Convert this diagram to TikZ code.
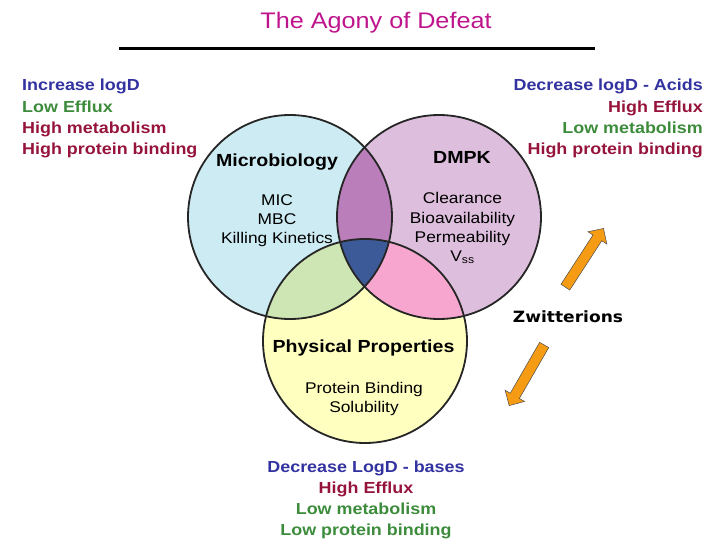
\documentclass[tikz,border=0pt]{standalone}
\usepackage{fontspec}
\setmainfont{Liberation Sans}[FakeStretch=1.12]
\newfontfamily\zwfont{DejaVu Sans}[FakeStretch=1.1]
\usetikzlibrary{shapes.arrows}
\definecolor{AgoMagenta}{RGB}{190,20,140}
\definecolor{AgoBlueText}{RGB}{50,50,160}
\definecolor{AgoGreenText}{RGB}{60,140,60}
\definecolor{AgoRedText}{RGB}{150,20,60}
\definecolor{AgoCyan}{RGB}{205,235,242}
\definecolor{AgoLilac}{RGB}{221,190,221}
\definecolor{AgoYellow}{RGB}{255,255,192}
\definecolor{AgoPurple}{RGB}{186,126,186}
\definecolor{AgoGreen}{RGB}{205,230,180}
\definecolor{AgoPink}{RGB}{247,167,207}
\definecolor{AgoNavy}{RGB}{61,90,152}
\definecolor{AgoOrange}{RGB}{245,155,20}
\tikzset{
  ago/title/.style={anchor=base, text=AgoMagenta, font=\fontsize{22.5}{27}\selectfont},
  ago/list/.style={anchor=base, inner sep=0pt, font=\fontsize{16}{20}\selectfont\bfseries},
  ago/head/.style={anchor=base, inner sep=0pt, text=black, font=\fontsize{17.5}{21}\selectfont\bfseries},
  ago/item/.style={anchor=base, inner sep=0pt, text=black, font=\fontsize{15.5}{19}\selectfont},
  ago/ring/.style={draw=black!85, line width=1.8pt},
  ago/arrow/.style={single arrow, draw=black!70, line width=0.5pt, fill=AgoOrange,
    minimum height=70pt, inner sep=5pt, single arrow head extend=6pt,
    single arrow head indent=0pt}
}

\begin{document}
\begin{tikzpicture}[x=1pt,y=-1pt]
  \useasboundingbox (0,0) rectangle (720,540);
  % title
  \node[ago/title] (title) at (376,29) {The Agony of Defeat};
  \coordinate (ruleL) at (119,49);
  \coordinate (ruleR) at (595,49);
  \draw[line width=3pt] (ruleL) -- (ruleR);

  % venn circles
  \coordinate (micro) at (290,217);
  \coordinate (dmpk) at (439,217);
  \coordinate (phys) at (365,341);
  \fill[AgoCyan] (micro) circle (102);
  \fill[AgoLilac] (dmpk) circle (102);
  \fill[AgoYellow] (phys) circle (102);
  \begin{scope}
    \clip (micro) circle (102);
    \fill[AgoPurple] (dmpk) circle (102);
    \fill[AgoGreen] (phys) circle (102);
  \end{scope}
  \begin{scope}
    \clip (phys) circle (102);
    \fill[AgoPink] (dmpk) circle (102);
  \end{scope}
  \begin{scope}
    \clip (micro) circle (102);
    \clip (dmpk) circle (102);
    \fill[AgoNavy] (phys) circle (102);
  \end{scope}
  \draw[ago/ring] (micro) circle (102);
  \draw[ago/ring] (dmpk) circle (102);
  \draw[ago/ring] (phys) circle (102);

  % left list
  \node[ago/list, anchor=base west, text=AgoBlueText] (l1) at (22,91) {Increase logD};
  \node[ago/list, anchor=base west, text=AgoGreenText] (l2) at (22,112.3) {Low Efflux};
  \node[ago/list, anchor=base west, text=AgoRedText] (l3) at (22,133.6) {High metabolism};
  \node[ago/list, anchor=base west, text=AgoRedText] (l4) at (22,155) {High protein binding};

  % right list
  \node[ago/list, anchor=base east, text=AgoBlueText] (r1) at (703,91) {Decrease logD - Acids};
  \node[ago/list, anchor=base east, text=AgoRedText] (r2) at (703,112.3) {High Efflux};
  \node[ago/list, anchor=base east, text=AgoGreenText] (r3) at (703,133.6) {Low metabolism};
  \node[ago/list, anchor=base east, text=AgoRedText] (r4) at (703,155) {High protein binding};

  % circle contents
  \node[ago/head] (microT) at (277,167) {Microbiology};
  \node[ago/item] (mic) at (277,206) {MIC};
  \node[ago/item] (mbc) at (277,225) {MBC};
  \node[ago/item] (kill) at (277,243.5) {Killing Kinetics};

  \node[ago/head] (dmpkT) at (462,164) {DMPK};
  \node[ago/item] (clear) at (462.5,204) {Clearance};
  \node[ago/item] (bio) at (462.5,223) {Bioavailability};
  \node[ago/item] (perm) at (462.5,242) {Permeability};
  \node[ago/item] (vss) at (462.5,261) {V\textsubscript{ss}};

  \node[ago/head] (physT) at (363.5,352) {Physical Properties};
  \node[ago/item] (pb) at (364,393) {Protein Binding};
  \node[ago/item] (sol) at (364,412) {Solubility};

  % bottom list
  \node[ago/list, text=AgoBlueText] (b1) at (366,472) {Decrease LogD - bases};
  \node[ago/list, text=AgoRedText] (b2) at (366,493.3) {High Efflux};
  \node[ago/list, text=AgoGreenText] (b3) at (366,514.3) {Low metabolism};
  \node[ago/list, text=AgoGreenText] (b4) at (366,535) {Low protein binding};

  % zwitterions
  \node[anchor=base, inner sep=0pt, font=\zwfont\fontsize{15.5}{18}\selectfont\bfseries] (zw) at (568,322) {Zwitterions};
  \node[ago/arrow, rotate=57] (upArrow) at (583,260) {};
  \node[ago/arrow, rotate=-120] (downArrow) at (528,373) {};
\end{tikzpicture}
\end{document}
